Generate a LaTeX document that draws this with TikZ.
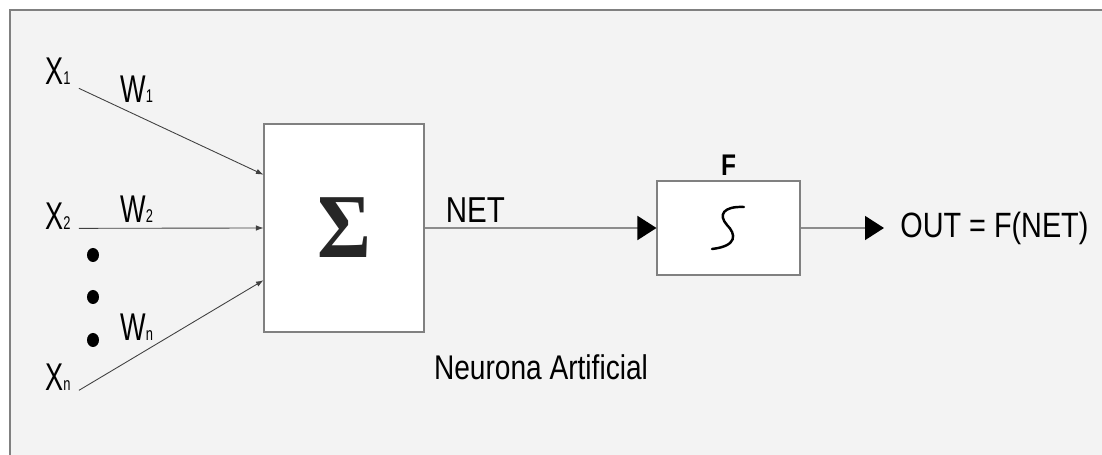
\documentclass[tikz,border=0pt]{standalone}
\usepackage{fontspec}
\setmainfont{Liberation Sans}
\newfontfamily\narrowfont{Liberation Sans}[FakeStretch=0.82]
\newfontfamily\condfont{Liberation Sans}[FakeStretch=0.7]
\newfontfamily\sigmafont{Liberation Serif}[FakeStretch=0.9]
\usetikzlibrary{calc, positioning, arrows.meta}
\definecolor{panel}{HTML}{F3F3F3}
\newcommand{\smallsub}[1]{{\fontsize{10.5}{10.5}\selectfont #1}}

\begin{document}
\begin{tikzpicture}[x=0.02cm, y=-0.02cm]
\tikzset{>=latex}
\tikzset{
  xlbl/.style={inner sep=0, font=\condfont\fontsize{22}{22}\selectfont},
  block/.style={draw=black!50, line width=0.6pt, fill=white, inner sep=0},
  inp/.style={draw=black!75, line width=0.5pt, -{Latex[length=1.5mm,width=1.1mm]}},
  big/.style={draw=black!45, line width=0.9pt, -{Triangle[length=0.38cm,width=0.48cm,color=black]}},
}

  \useasboundingbox (0,0) rectangle (1102,455);
  \fill[white] (0,0) rectangle (1102,455);
  \fill[panel] (10,10) rectangle (1102,455);
  \draw[black!50, line width=0.6pt] (1102,10) -- (10,10) -- (10,455);

  \node[xlbl, anchor=base west] (x1) at (45,85) {X\smallsub{1}};
  \node[xlbl, anchor=base west] (x2) at (45,230) {X\smallsub{2}};
  \node[xlbl, anchor=base west] (xn) at (45,391) {X\smallsub{n}};
  \node[xlbl, anchor=base west] (w1) at (120,103) {W\smallsub{1}};
  \node[xlbl, anchor=base west] (w2) at (120,223) {W\smallsub{2}};
  \node[xlbl, anchor=base west] (wn) at (120,341) {W\smallsub{n}};

  \node[block, minimum width=3.2cm, minimum height=4.16cm] (sum) at (344,228)
    {\sigmafont\bfseries\fontsize{52}{52}\selectfont\color{black!85}Σ};
  \node[block, minimum width=2.86cm, minimum height=1.88cm, right=4.64cm of sum] (fbox) {};
  \node[inner sep=0, above=0.1cm of fbox, font=\narrowfont\bfseries\fontsize{17}{17}\selectfont] (flbl) {F};

  \foreach \y in {255,297,340}
    \fill (93,\y) ellipse [x radius=0.12cm, y radius=0.14cm];

  \draw[inp] ([shift={(8,3)}]x1.south east) -- ($(sum.north west)!0.245!(sum.south west)$);
  \draw[inp] ([shift={(8,-2)}]x2.south east) -- (sum.west);
  \draw[inp] ([shift={(8,-1)}]xn.south east) -- ($(sum.north west)!0.75!(sum.south west)$);

  \node[inner sep=0, anchor=base west, font=\narrowfont\fontsize{20.5}{20.5}\selectfont] (net)
    at ([shift={(21,-5)}]sum.east) {NET};
  \draw[big] (sum.east) -- (fbox.west);

  % sigmoid
  \draw[line width=1.4pt, line cap=round] (712,249) .. controls (738,246) and (736,234) .. (727,225)
    .. controls (718,215) and (723,206) .. (744,207);

  \node[inner sep=0, anchor=west, font=\narrowfont\fontsize{20}{20}\selectfont] (out) at (900,228) {OUT = F(NET)};
  \draw[big] (fbox.east) -- ([shift={(-16,0)}]out.west);

  \node[inner sep=0, anchor=base, font=\narrowfont\fontsize{19.5}{19.5}\selectfont] (cap) at (541,380) {Neurona Artificial};
\end{tikzpicture}
\end{document}
